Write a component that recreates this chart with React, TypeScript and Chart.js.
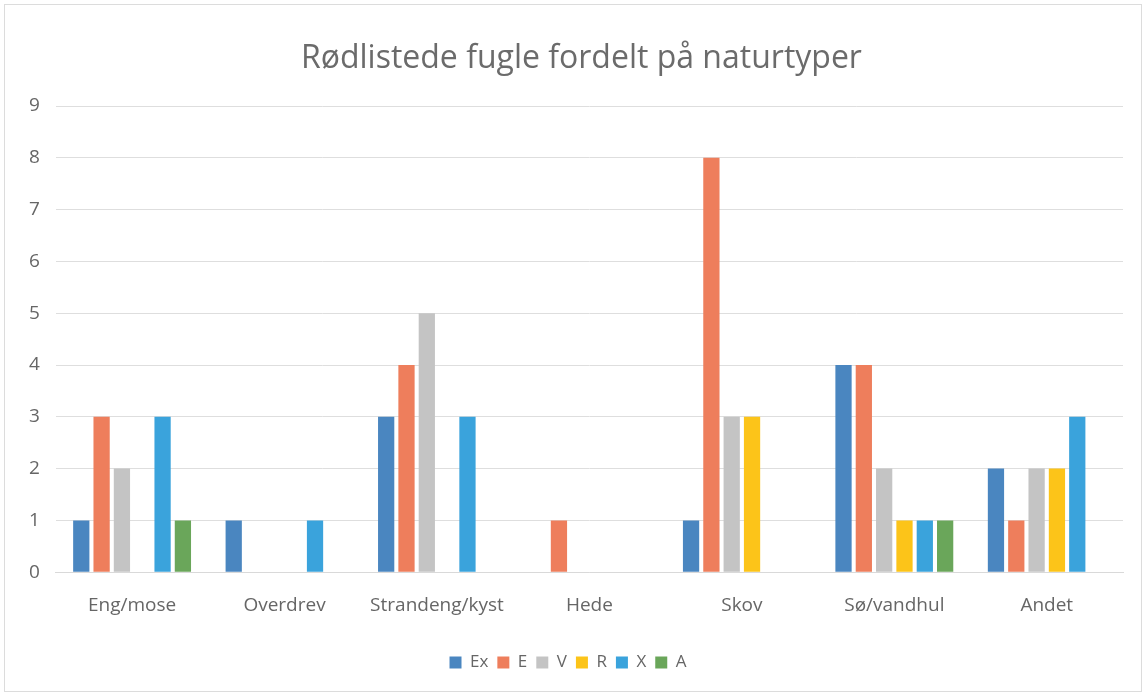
import React, { useEffect, useRef } from "react";
import { Chart, registerables } from "chart.js";

Chart.register(...registerables);

const chartTitle = "Rødlistede fugle fordelt på naturtyper";
const categories = ["Eng/mose", "Overdrev", "Strandeng/kyst", "Hede", "Skov", "Sø/vandhul", "Andet"];
const seriesNames = ["Ex", "E", "V", "R", "X", "A"];
const exValues = [1, 1, 3, 0, 1, 4, 2];
const eValues = [3, 0, 4, 1, 8, 4, 1];
const vValues = [2, 0, 5, 0, 3, 2, 2];
const rValues = [0, 0, 0, 0, 3, 1, 2];
const xValues = [3, 1, 3, 0, 0, 1, 3];
const aValues = [1, 0, 0, 0, 0, 1, 0];
const seriesColors = ["#4a86c0", "#ee7e5c", "#c4c4c4", "#fcc419", "#3aa3dc", "#6aa65a"];
const yTicks = [0, 1, 2, 3, 4, 5, 6, 7, 8, 9];

const titlePlugin = {
  id: "customTitle",
  afterDraw(chart: any) {
    const ctx = chart.ctx;
    ctx.save();
    ctx.font = "32px 'Open Sans'";
    ctx.fillStyle = "#6b6b6b";
    ctx.textAlign = "center";
    ctx.textBaseline = "middle";
    const cx = (chart.chartArea.left + chart.chartArea.right) / 2 - 8;
    ctx.fillText(chartTitle, cx, 59);
    ctx.restore();
  },
};

export default function App() {
  const ref = useRef<HTMLCanvasElement>(null);
  useEffect(() => {
    document.body.style.margin = "0";
    const values = [exValues, eValues, vValues, rValues, xValues, aValues];
    const chart = new Chart(ref.current!, {
      type: "bar",
      data: {
        labels: categories,
        datasets: seriesNames.map((n, i) => ({
          label: n,
          data: values[i],
          backgroundColor: seriesColors[i],
          borderWidth: 0,
          categoryPercentage: 0.8,
          barPercentage: 0.8,
        })),
      },
      plugins: [titlePlugin],
      options: {
        animation: false,
        responsive: false,
        layout: { padding: { left: 13, right: 23, top: 106, bottom: 16 } },
        plugins: {
          title: { display: false },
          legend: {
            position: "bottom",
            labels: {
              color: "#666",
              font: { family: "Open Sans", size: 17 },
              boxWidth: 12,
              boxHeight: 12,
              padding: 9,
            },
          },
          tooltip: { enabled: false },
        },
        scales: {
          x: {
            grid: { display: false },
            border: { color: "#d9d9d9" },
            ticks: {
              color: "#666",
              font: { family: "Open Sans", size: 19 },
              padding: 14,
            },
            afterFit: (scale: any) => {
              scale.height += 14;
            },
          },
          y: {
            min: 0,
            max: 9,
            afterBuildTicks: (axis: any) => {
              axis.ticks = yTicks.map((v) => ({ value: v }));
            },
            grid: { color: "#dedede", drawTicks: false },
            border: { display: false },
            ticks: {
              color: "#666",
              font: { family: "Open Sans", size: 19 },
              padding: 16,
            },
          },
        },
      },
    });
    return () => chart.destroy();
  }, []);
  return (
    <div style={{ position: "relative", width: 1146, height: 697 }}>
      <canvas ref={ref} width={1146} height={697} style={{ display: "block" }} />
      <div
        style={{
          position: "absolute",
          left: 4,
          top: 4,
          width: 1136,
          height: 686,
          border: "1px solid #dcdcdc",
          pointerEvents: "none",
        }}
      />
    </div>
  );
}
